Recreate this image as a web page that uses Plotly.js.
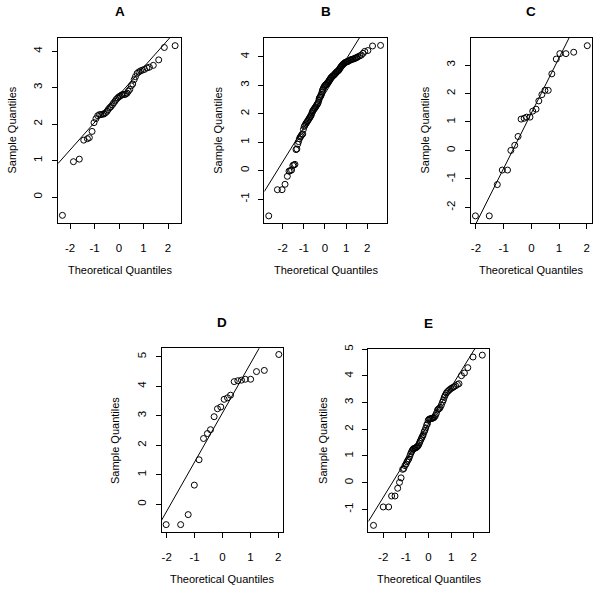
<!DOCTYPE html>
<html>
<head>
<meta charset="utf-8">
<script src="https://cdn.plot.ly/plotly-3.0.1.min.js"></script>
<style>html,body{margin:0;padding:0;background:#fff}#chart{width:600px;height:591px}</style>
</head>
<body>
<div id="chart"></div>
<script>
// ---- Data ----
const panelLabels = ["A", "B", "C", "D", "E"];

const qA_x = [-2.31,-1.86,-1.62,-1.44,-1.29,-1.21,-1.10,-1.02,-0.94,-0.87,-0.80,-0.74,-0.67,-0.61,-0.55,-0.49,-0.44,-0.38,-0.33,-0.27,-0.22,-0.16,-0.11,-0.05,0.00,0.05,0.11,0.16,0.22,0.27,0.33,0.38,0.44,0.50,0.56,0.62,0.67,0.74,0.81,0.88,0.96,1.04,1.14,1.24,1.40,1.62,1.85,2.29];
const qA_y = [-0.50,0.97,1.04,1.56,1.60,1.63,1.80,2.04,2.15,2.23,2.26,2.26,2.27,2.28,2.31,2.35,2.40,2.45,2.48,2.53,2.58,2.63,2.68,2.72,2.75,2.77,2.80,2.81,2.81,2.82,2.85,2.90,2.95,3.05,3.10,3.22,3.30,3.39,3.43,3.46,3.48,3.50,3.54,3.56,3.61,3.76,4.10,4.15];

const qB_x = [-2.66,-2.25,-2.03,-1.89,-1.78,-1.70,-1.64,-1.58,-1.52,-1.47,-1.42,-1.37,-1.33,-1.29,-1.25,-1.21,-1.17,-1.13,-1.09,-1.05,-1.02,-0.98,-0.95,-0.91,-0.88,-0.84,-0.81,-0.77,-0.74,-0.71,-0.68,-0.65,-0.62,-0.59,-0.56,-0.53,-0.50,-0.47,-0.44,-0.41,-0.38,-0.35,-0.32,-0.29,-0.27,-0.24,-0.22,-0.19,-0.17,-0.14,-0.12,-0.09,-0.06,-0.03,0.00,0.03,0.06,0.09,0.13,0.16,0.19,0.22,0.25,0.28,0.31,0.34,0.38,0.41,0.44,0.47,0.50,0.53,0.56,0.59,0.63,0.66,0.69,0.72,0.75,0.78,0.81,0.85,0.88,0.91,0.94,0.98,1.02,1.06,1.09,1.14,1.19,1.23,1.28,1.33,1.38,1.42,1.47,1.51,1.56,1.64,1.72,1.80,1.88,2.03,2.25,2.63];
const qB_y = [-1.59,-0.67,-0.67,-0.48,-0.20,-0.02,0.00,0.02,0.18,0.20,0.22,0.74,0.76,0.93,1.02,1.12,1.18,1.22,1.27,1.29,1.45,1.55,1.59,1.64,1.68,1.72,1.76,1.80,1.84,1.88,1.91,1.95,2.02,2.08,2.11,2.15,2.18,2.21,2.24,2.28,2.32,2.35,2.39,2.47,2.54,2.58,2.60,2.64,2.68,2.76,2.82,2.87,2.92,2.96,2.99,3.01,3.03,3.06,3.09,3.12,3.16,3.19,3.23,3.26,3.28,3.31,3.33,3.35,3.37,3.40,3.42,3.45,3.47,3.49,3.51,3.54,3.57,3.61,3.64,3.67,3.70,3.73,3.75,3.77,3.79,3.81,3.82,3.83,3.84,3.86,3.88,3.90,3.91,3.92,3.93,3.95,3.96,3.98,4.00,4.03,4.06,4.12,4.19,4.22,4.38,4.40];

const qC_x = [-2.02,-1.52,-1.23,-1.05,-0.86,-0.74,-0.60,-0.48,-0.37,-0.26,-0.17,-0.05,0.05,0.17,0.27,0.38,0.49,0.61,0.74,0.90,1.03,1.25,1.53,2.02];
const qC_y = [-2.30,-2.30,-1.20,-0.69,-0.69,0.00,0.18,0.49,1.10,1.13,1.17,1.17,1.38,1.45,1.74,1.96,2.11,2.11,2.69,3.21,3.40,3.40,3.45,3.68];

const qD_x = [-2.02,-1.50,-1.23,-1.01,-0.84,-0.68,-0.54,-0.43,-0.30,-0.18,-0.06,0.06,0.18,0.29,0.42,0.55,0.68,0.82,1.01,1.22,1.50,2.02];
const qD_y = [-0.69,-0.69,-0.35,0.65,1.51,2.23,2.40,2.53,2.97,3.24,3.30,3.56,3.61,3.70,4.16,4.19,4.21,4.24,4.24,4.50,4.54,5.08];

const qE_x = [-2.43,-2.00,-1.76,-1.63,-1.48,-1.36,-1.28,-1.21,-1.14,-1.09,-1.04,-0.99,-0.95,-0.91,-0.87,-0.83,-0.79,-0.75,-0.72,-0.68,-0.65,-0.61,-0.58,-0.54,-0.51,-0.47,-0.44,-0.40,-0.37,-0.33,-0.30,-0.26,-0.23,-0.19,-0.16,-0.12,-0.08,-0.04,-0.01,0.03,0.07,0.11,0.15,0.19,0.23,0.27,0.31,0.35,0.40,0.44,0.48,0.52,0.57,0.62,0.66,0.70,0.74,0.79,0.84,0.89,0.94,1.00,1.06,1.12,1.20,1.28,1.35,1.46,1.59,1.74,1.97,2.38];
const qE_y = [-1.60,-0.91,-0.91,-0.50,-0.50,-0.21,0.01,0.18,0.50,0.53,0.64,0.70,0.78,0.84,0.89,0.98,1.08,1.15,1.21,1.25,1.28,1.29,1.30,1.32,1.34,1.37,1.41,1.48,1.55,1.62,1.68,1.74,1.80,1.90,1.96,2.05,2.16,2.22,2.34,2.38,2.39,2.40,2.41,2.42,2.43,2.47,2.52,2.60,2.72,2.76,2.78,2.82,2.91,3.02,3.10,3.20,3.28,3.36,3.41,3.45,3.49,3.53,3.56,3.59,3.63,3.68,3.71,4.01,4.11,4.31,4.71,4.78];

// Reference lines (qqline) : intercept and slope per panel
const lineIntercept = [2.80, 2.71, 1.31, 3.10, 2.20];
const lineSlope     = [0.755, 1.20, 1.94, 1.667, 1.375];

// Axis ranges and tick values per panel
const xRanges = [[-2.49, 2.53], [-2.87, 2.92], [-2.18, 2.18], [-2.18, 2.16], [-2.66, 2.69]];
const yRanges = [[-0.71, 4.36], [-1.84, 4.66], [-2.55, 3.95], [-0.95, 5.29], [-1.86, 5.01]];
const xTicks = [[-2,-1,0,1,2],[-2,-1,0,1,2],[-2,-1,0,1,2],[-2,-1,0,1,2],[-2,-1,0,1,2]];
const yTicks = [[0,1,2,3,4],[-1,0,1,2,3,4],[-2,-1,0,1,2,3],[0,1,2,3,4,5],[-1,0,1,2,3,4,5]];

const xTitle = "Theoretical Quantiles";
const yTitle = "Sample Quantiles";

// ---- Layout geometry (pixels) ----
const W = 600, H = 591;
const boxes = [
  {l: 58,    r: 181,   t: 38,    b: 223},
  {l: 264.3, r: 386.7, t: 38,    b: 223},
  {l: 471,   r: 591.7, t: 38,    b: 223},
  {l: 161.7, r: 282.7, t: 348.3, b: 532.3},
  {l: 368.3, r: 489.3, t: 349,   b: 532.3}
];

const xs = [qA_x, qB_x, qC_x, qD_x, qE_x];
const ys = [qA_y, qB_y, qC_y, qD_y, qE_y];

const FONT = "Liberation Sans, Arial, sans-serif";
const data = [];
const layout = {
  width: W, height: H,
  margin: {l: 0, r: 0, t: 0, b: 0},
  paper_bgcolor: "#fff", plot_bgcolor: "#fff",
  showlegend: false,
  font: {family: FONT, size: 11, color: "#000"},
  annotations: []
};

for (let i = 0; i < 5; i++) {
  const ax = i === 0 ? "" : String(i + 1);
  const bx = boxes[i];
  data.push({
    type: "scatter", mode: "markers",
    x: xs[i], y: ys[i],
    xaxis: "x" + ax, yaxis: "y" + ax,
    marker: {symbol: "circle-open", size: 6, color: "#000", line: {width: 1, color: "#000"}},
    cliponaxis: false,
    hoverinfo: "skip"
  });
  const xr = xRanges[i];
  data.push({
    type: "scatter", mode: "lines",
    x: [xr[0], xr[1]],
    y: [lineIntercept[i] + lineSlope[i] * xr[0], lineIntercept[i] + lineSlope[i] * xr[1]],
    xaxis: "x" + ax, yaxis: "y" + ax,
    line: {color: "#000", width: 1},
    hoverinfo: "skip"
  });
  const common = {
    showgrid: false, zeroline: false,
    showline: true, mirror: true, linecolor: "#000", linewidth: 1,
    ticks: "outside", ticklen: 5, tickwidth: 1, tickcolor: "#000",
    tickfont: {family: FONT, size: 11.5, color: "#000"},
    fixedrange: true
  };
  layout["xaxis" + ax] = Object.assign({}, common, {
    domain: [bx.l / W, bx.r / W],
    range: xRanges[i],
    tickvals: xTicks[i],
    ticktext: xTicks[i].map(String),
    anchor: "y" + ax,
    ticklabelstandoff: 9
  });
  layout["yaxis" + ax] = Object.assign({}, common, {
    domain: [1 - bx.b / H, 1 - bx.t / H],
    range: yRanges[i],
    tickvals: yTicks[i],
    ticktext: yTicks[i].map(String),
    tickangle: -90,
    anchor: "x" + ax,
    ticklabelstandoff: 5
  });
  const cx = (bx.l + bx.r) / 2, cy = (bx.t + bx.b) / 2;
  // panel title
  layout.annotations.push({
    text: "<b>" + panelLabels[i] + "</b>", xref: "paper", yref: "paper",
    x: cx / W, y: 1 - (bx.t - 26) / H, xanchor: "center", yanchor: "middle",
    showarrow: false, font: {family: FONT, size: 13.5, color: "#000"}
  });
  // x axis title
  layout.annotations.push({
    text: xTitle, xref: "paper", yref: "paper",
    x: cx / W, y: 1 - (bx.b + 47) / H, xanchor: "center", yanchor: "middle",
    showarrow: false, font: {family: FONT, size: 11, color: "#000"}
  });
  // y axis title
  layout.annotations.push({
    text: yTitle, xref: "paper", yref: "paper",
    x: (bx.l - 46) / W, y: 1 - cy / H, xanchor: "center", yanchor: "middle",
    textangle: -90,
    showarrow: false, font: {family: FONT, size: 11, color: "#000"}
  });
}

Plotly.newPlot("chart", data, layout, {staticPlot: true, displayModeBar: false});
</script>
</body>
</html>
